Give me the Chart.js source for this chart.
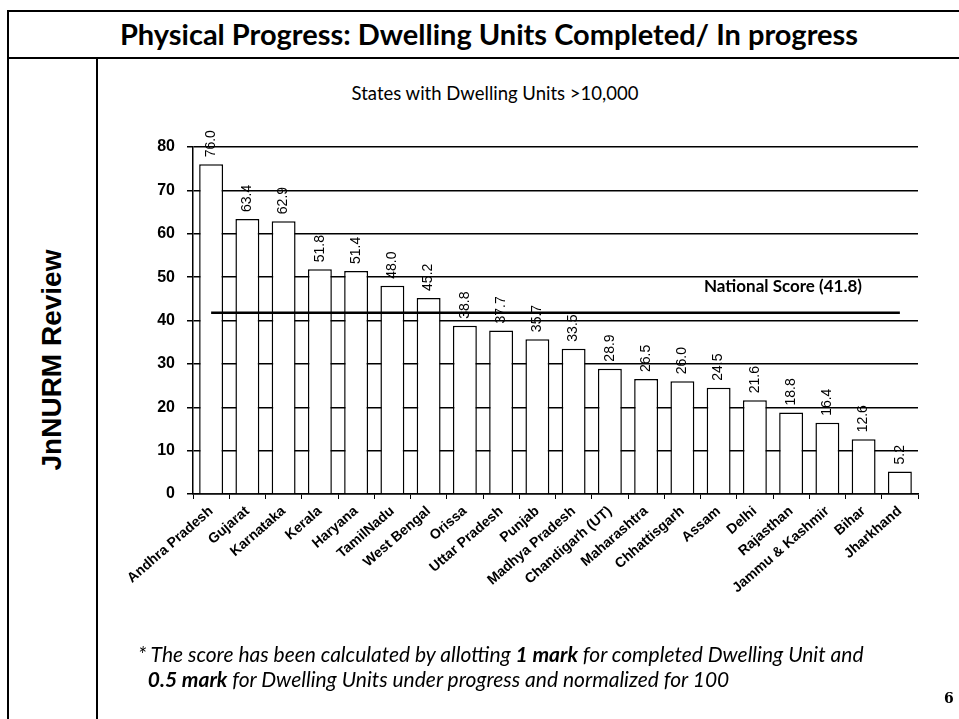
<!DOCTYPE html>
<html>
<head>
<meta charset="utf-8">
<script src="https://cdn.jsdelivr.net/npm/chart.js@4.4.1/dist/chart.umd.min.js"></script>
<style>
  html, body { margin: 0; padding: 0; background: #fff; }
  #page { position: relative; width: 959px; height: 719px; overflow: hidden; background: #fff; }
  #header {
    position: absolute; left: 7px; top: 10px; width: 960px; height: 45px;
    border-top: 2px solid #000; border-bottom: 2px solid #000; border-left: 2px solid #000;
    font: bold 29px Lato, sans-serif; line-height: 45px;
  }
  #header span { position: absolute; left: 0; width: 960px; text-align: center; top: -1px; }
  #leftline { position: absolute; left: 7px; top: 57px; width: 2px; height: 662px; background: #000; }
  #divider { position: absolute; left: 96px; top: 57px; width: 1.5px; height: 662px; background: #000; }
  #side {
    position: absolute; left: 52px; top: 360px; transform: translate(-50%, -50%) rotate(-90deg);
    font: bold 28px "Liberation Sans", Arial, sans-serif; white-space: nowrap;
  }
  #subtitle { position: absolute; left: 295px; width: 400px; top: 82px; text-align: center; font: 18.5px Lato, sans-serif; }
  #note { position: absolute; left: 138px; top: 641px; font: italic 21px Lato, sans-serif; line-height: 25px; white-space: nowrap; }
  #pageno { position: absolute; left: 944px; top: 690px; font: bold 14px "DejaVu Serif", serif; }
  canvas { position: absolute; left: 0; top: 0; }
</style>
</head>
<body>
<div id="page">
  <div id="header"><span>Physical Progress: Dwelling Units Completed/ In progress</span></div>
  <div id="leftline"></div>
  <div id="divider"></div>
  <div id="side">JnNURM Review</div>
  <div id="subtitle">States with Dwelling Units &gt;10,000</div>
  <canvas id="chart" width="959" height="719"></canvas>
  <div id="note">* The score has been calculated by allotting <b>1 mark</b> for completed Dwelling Unit and<br>&nbsp;&nbsp;<b>0.5 mark</b> for Dwelling Units under progress and normalized for 100</div>
  <div id="pageno">6</div>
</div>
<script>
const states = ['Andhra Pradesh','Gujarat','Karnataka','Kerala','Haryana','TamilNadu','West Bengal','Orissa','Uttar Pradesh','Punjab','Madhya Pradesh','Chandigarh (UT)','Maharashtra','Chhattisgarh','Assam','Delhi','Rajasthan','Jammu & Kashmir','Bihar','Jharkhand']
const scores = [76.0,63.4,62.9,51.8,51.4,48.0,45.2,38.8,37.7,35.7,33.5,28.9,26.5,26.0,24.5,21.6,18.8,16.4,12.6,5.2]
const nationalScore = 41.8
const yTicks = [0,10,20,30,40,50,60,70,80]

// value labels, written sideways above each bar
const barLabels = {
  id: 'barLabels',
  afterDatasetsDraw(chart) {
    const ctx = chart.ctx
    const meta = chart.getDatasetMeta(1)
    ctx.save()
    ctx.fillStyle = '#000'
    ctx.font = '14px "Liberation Sans", Arial, sans-serif'
    ctx.textAlign = 'left'
    ctx.textBaseline = 'middle'
    meta.data.forEach((bar, i) => {
      ctx.save()
      ctx.translate(bar.x, bar.y - 7)
      ctx.rotate(-Math.PI / 2)
      ctx.fillText(scores[i].toFixed(1), 0, 0)
      ctx.restore()
    })
    // national score caption
    const y = chart.scales.y.getPixelForValue(nationalScore)
    ctx.font = 'bold 17px Lato, sans-serif'
    ctx.textAlign = 'right'
    ctx.fillText('National Score (' + nationalScore + ')', chart.chartArea.right - 56, y - 26)
    ctx.restore()
  }
}

new Chart(document.getElementById('chart'), {
  data: {
    labels: states,
    datasets: [{
      type: 'line',
      data: states.map(() => nationalScore),
      borderColor: '#000',
      borderWidth: 2.5,
      pointRadius: 0,
      order: 0
    }, {
      type: 'bar',
      data: scores,
      backgroundColor: '#fff',
      borderColor: '#000',
      borderWidth: 1.5,
      barPercentage: 0.66,
      categoryPercentage: 1,
      order: 1
    }]
  },
  options: {
    responsive: false,
    animation: false,
    layout: { padding: { left: 140, right: 41, top: 147, bottom: 0 } },
    plugins: { legend: { display: false }, tooltip: { enabled: false } },
    scales: {
      x: {
        offset: true,
        grid: { drawOnChartArea: false, color: '#000', tickLength: 5, offset: true },
        border: { color: '#000', width: 1.5 },
        ticks: {
          color: '#000',
          font: { family: '"Liberation Sans", Arial, sans-serif', size: 14, weight: 'bold' },
          minRotation: 41, maxRotation: 41, padding: 4
        },
        afterFit(s) { s.height = 225 }
      },
      y: {
        min: yTicks[0], max: yTicks[yTicks.length - 1],
        afterBuildTicks(s) { s.ticks = yTicks.map(v => ({ value: v })) },
        grid: { color: '#000', lineWidth: 1.5, tickLength: 6 },
        border: { color: '#000', width: 1.5 },
        ticks: {
          color: '#000',
          font: { family: '"Liberation Sans", Arial, sans-serif', size: 16, weight: 'bold' },
          padding: 12
        },
        afterFit(s) { s.width = 53 }
      }
    }
  },
  plugins: [barLabels]
})
</script>
</body>
</html>
